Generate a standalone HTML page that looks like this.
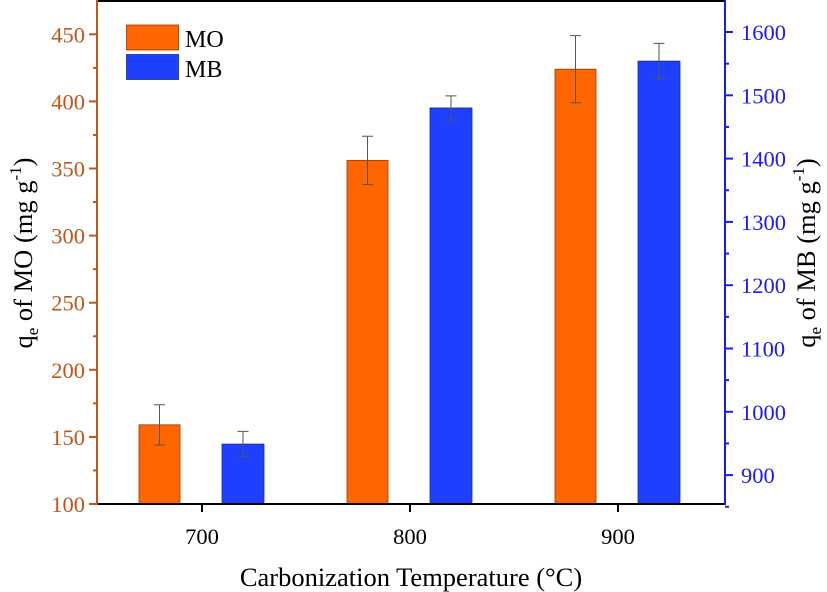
<!DOCTYPE html>
<html><head><meta charset="utf-8"><style>
body{margin:0;background:#fff}
svg{display:block;font-family:"Liberation Serif",serif}
</style></head><body>
<svg id="chart" width="827" height="592" viewBox="0 0 827 592"></svg>
<script>
const categories=["700","800","900"];
const moValues=[159,356,424];
const moErrors=[15,18,25];
const mbValues=[949,1480,1554];
const mbErrors=[20,19,28];
const leftTicks=[100,150,200,250,300,350,400,450];
const rightTicks=[900,1000,1100,1200,1300,1400,1500,1600];

const NS="http://www.w3.org/2000/svg";
const svg=document.getElementById('chart');
const L=97,R=725,T=1,B=504;
const ORANGE="#c0561b",BLUE="#1a1aff";
function yL(v){return B-(v-100)/50*67.1;}
function yR(v){return 32+(1600-v)/100*63.3;}
function xC(i){return 202+i*208;}
function mk(tag,attrs,parent){const e=document.createElementNS(NS,tag);for(const k in attrs)e.setAttribute(k,attrs[k]);(parent||svg).appendChild(e);return e;}

let e=mk('line',{x1:L,y1:T,x2:R,y2:T,stroke:'#000','stroke-width':2});



for(let i=0;i<categories.length;i++){
  const c=xC(i);
  let b=mk('rect',{x:c-63,y:yL(moValues[i]),width:41,height:B-yL(moValues[i]),fill:'#ff6600',stroke:'#8a3a10','stroke-width':0.8});
  
  
  let g=mk('path',{d:`M${c-42.5},${yL(moValues[i]+moErrors[i])}V${yL(moValues[i]-moErrors[i])}M${c-48},${yL(moValues[i]+moErrors[i])}h11M${c-48},${yL(moValues[i]-moErrors[i])}h11`,stroke:'#555',fill:'none','stroke-width':1});
  
  
  b=mk('rect',{x:c+20,y:yR(mbValues[i]),width:42,height:B-yR(mbValues[i]),fill:'#1f3fff',stroke:'#1a2a90','stroke-width':0.8});
  
  
  g=mk('path',{d:`M${c+41},${yR(mbValues[i]+mbErrors[i])}V${yR(mbValues[i]-mbErrors[i])}M${c+35.5},${yR(mbValues[i]+mbErrors[i])}h11M${c+35.5},${yR(mbValues[i]-mbErrors[i])}h11`,stroke:'#555',fill:'none','stroke-width':1});
  
  
  let t=mk('line',{x1:c,y1:B,x2:c,y2:B+8,stroke:'#000','stroke-width':2});
  
  
  let tx=mk('text',{x:c,y:B+40,'text-anchor':'middle','font-size':22.5,fill:'#000'});
  tx.textContent=categories[i];
  
  
}

e=mk('line',{x1:L,y1:B,x2:R,y2:B,stroke:'#000','stroke-width':2});



e=mk('line',{x1:L,y1:T-1,x2:L,y2:B+1,stroke:ORANGE,'stroke-width':2});


for(const v of leftTicks){
  const y=yL(v);
  let t=mk('line',{x1:L-8,y1:y,x2:L,y2:y,stroke:ORANGE,'stroke-width':2});
  
  
  if(v<450){let m=mk('line',{x1:L-4,y1:yL(v+25),x2:L,y2:yL(v+25),stroke:ORANGE,'stroke-width':2});
  
  }
  let tx=mk('text',{x:L-12,y:y+8,'text-anchor':'end','font-size':22.5,fill:ORANGE});
  tx.textContent=v;
  
  
}
e=mk('line',{x1:R,y1:T-1,x2:R,y2:B+1,stroke:BLUE,'stroke-width':2});


for(const v of rightTicks){
  const y=yR(v);
  let t=mk('line',{x1:R,y1:y,x2:R+8,y2:y,stroke:BLUE,'stroke-width':2});
  
  
  let m=mk('line',{x1:R,y1:yR(v-50),x2:R+4,y2:yR(v-50),stroke:BLUE,'stroke-width':2});
  
  
  let tx=mk('text',{x:R+16,y:y+8,'text-anchor':'start','font-size':22.5,fill:BLUE});
  tx.textContent=v;
  
  
}
</script>
<svg style="position:absolute;left:0;top:0" width="827" height="592">
  <g font-family="Liberation Serif, serif">
    <rect x="126.5" y="25" width="52" height="25" fill="#ff6600" stroke="#8a3a10" stroke-width="0.8"/>
    <rect x="126.5" y="54.5" width="52" height="25" fill="#1f3fff" stroke="#1a2a90" stroke-width="0.8"/>
    <text x="185" y="47" font-size="24">MO</text>
    <text x="185" y="77" font-size="24">MB</text>
    <text x="411" y="586" text-anchor="middle" font-size="26.5">Carbonization Temperature (°C)</text>
    <text transform="translate(32,253) rotate(-90)" text-anchor="middle" font-size="26.5">q<tspan font-size="17" dy="6">e</tspan><tspan dy="-6"> of MO (mg g</tspan><tspan font-size="17" dy="-11">-1</tspan><tspan dy="11">)</tspan></text>
    <text transform="translate(815,253) rotate(-90)" text-anchor="middle" font-size="26.5">q<tspan font-size="17" dy="6">e</tspan><tspan dy="-6"> of MB (mg g</tspan><tspan font-size="17" dy="-11">-1</tspan><tspan dy="11">)</tspan></text>
  </g>
</svg>
</body></html>
